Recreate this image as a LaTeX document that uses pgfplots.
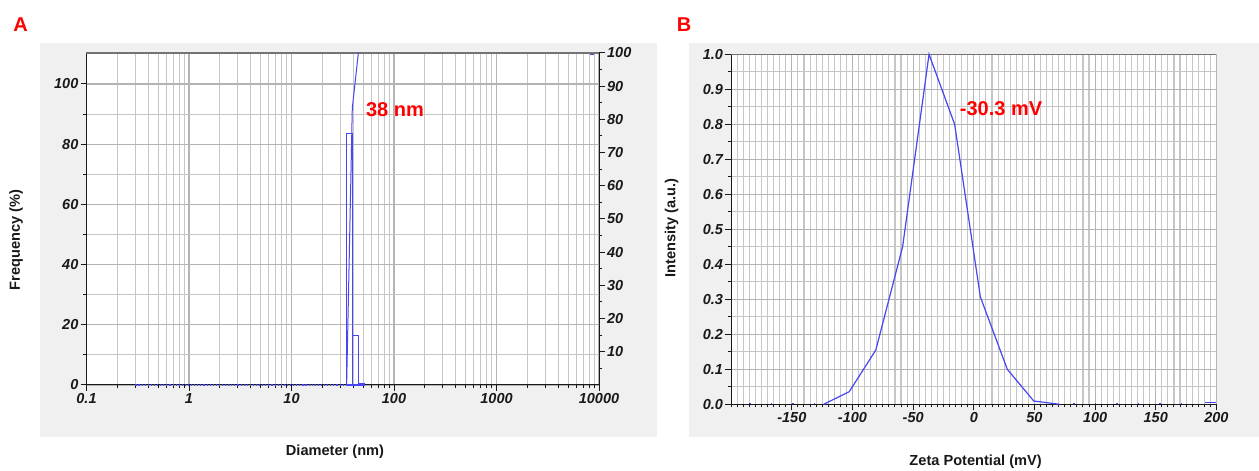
\documentclass[border=0pt]{standalone}
\usepackage{pgfplots}
\pgfplotsset{compat=1.18}
\usepackage{fontspec}
\setmainfont{Liberation Sans}

\definecolor{panelgray}{RGB}{240,240,240}
\definecolor{gridgray}{RGB}{198,198,198}
\definecolor{gridmajor}{RGB}{180,180,180}
\definecolor{trace}{RGB}{70,70,245}
\definecolor{labelred}{RGB}{255,0,0}
\definecolor{ink}{RGB}{25,25,25}

\newcommand{\tickfont}{\fontsize{14.5bp}{15bp}\selectfont\bfseries\itshape}
\newcommand{\labfont}{\fontsize{14.6bp}{16bp}\selectfont\bfseries}

\pgfplotsset{
  dlsframe/.style={
    scale only axis,
    axis background/.style={fill=white},
    tick align=outside,
    major tick length=6bp,
    minor tick length=3.5bp,
    every tick/.style={ink, line width=1bp},
    axis line style={ink, line width=1bp},
    ticklabel style={font=\tickfont, text=ink, inner sep=2bp},
    major grid style={gridmajor, line width=1.1bp},
    minor grid style={gridgray, line width=1.1bp},
    /pgf/number format/assume math mode=true,
  },
}

\begin{document}
\begin{tikzpicture}
\path[use as bounding box, fill=white] (0bp,0bp) rectangle (1259bp,471bp);
\fill[panelgray] (40bp,34bp) rectangle (657bp,428bp);
\fill[panelgray] (689bp,34bp) rectangle (1259bp,428bp);

% ---------------- A: size distribution ----------------
\begin{axis}[
  dlsframe,
  at={(86.5bp,86bp)}, anchor=south west,
  width=512.5bp, height=332bp,
  xmode=log, xmin=0.1, xmax=10000,
  ymin=0, ymax=110.3,
  axis lines*=left,
  xtick={0.1,1,10,100,1000,10000},
  xticklabels={0.1,1,10,100,1000,10000},
  minor xtick={0.2,0.3,0.4,0.5,0.6,0.7,0.8,0.9,
               2,3,4,5,6,7,8,9,20,30,40,50,60,70,80,90,
               200,300,400,500,600,700,800,900,
               2000,3000,4000,5000,6000,7000,8000,9000},
  ytick={0,20,40,60,80,100},
  minor ytick={10,30,50,70,90},
  grid=both,
  clip=false,
]
\draw[black!55, line width=1.3bp] (rel axis cs:0,1) -- (rel axis cs:1,1);
% empty bins below the peak
\addplot[trace, line width=1.1bp, dotted] coordinates {(0.3,0) (34.5,0)};
% histogram bins
\addplot[trace, line width=1.2bp] coordinates {
  (34.5,0) (34.5,83.5) (39.2,83.5) (39.2,0)
  (39.2,16.5) (44.9,16.5) (44.9,0.5) (50.9,0.5) (50.9,0) (34.5,0)};
\end{axis}

% cumulative curve on the right-hand scale
\begin{axis}[
  dlsframe,
  at={(86.5bp,86bp)}, anchor=south west,
  width=512.5bp, height=332bp,
  xmode=log, xmin=0.1, xmax=10000,
  ymin=0, ymax=100,
  axis x line=none,
  axis y line*=right,
  ytick={10,20,30,40,50,60,70,80,90,100},
  minor ytick={5,15,25,35,45,55,65,75,85,95},
  axis background/.style={},
  yticklabel style={anchor=west},
]
\addplot[trace, line width=1bp] coordinates {(34.5,0) (39.2,83.5) (44.9,100)};
\addplot[trace, line width=1.2bp] coordinates {(8200,99.6) (9000,99.6)};
\end{axis}

\node[font=\labfont, text=ink, rotate=90] at (16bp,231bp) {Frequency (\%)};
\node[font=\labfont, text=ink] at (335bp,19bp) {Diameter (nm)};
\node[font=\fontsize{20bp}{22bp}\selectfont\bfseries, text=labelred] at (395bp,361bp) {38 nm};
\node[font=\fontsize{20bp}{22bp}\selectfont\bfseries, text=labelred] at (20.5bp,446bp) {A};

% ---------------- B: zeta potential ----------------
\begin{axis}[
  dlsframe,
  at={(731.2bp,66.7bp)}, anchor=south west,
  width=485.2bp, height=350bp,
  xmin=-200, xmax=200, ymin=0, ymax=1,
  axis lines*=left,
  xtick={-150,-100,-50,0,50,100,150,200},
  xticklabels={-150,-100,-50,0,50,100,150,200},
  minor xtick={-200,-195,...,200},
  ytick={0,0.1,0.2,0.3,0.4,0.5,0.6,0.7,0.8,0.9,1},
  yticklabels={0.0,0.1,0.2,0.3,0.4,0.5,0.6,0.7,0.8,0.9,1.0},
  minor ytick={0.05,0.15,0.25,0.35,0.45,0.55,0.65,0.75,0.85,0.95},
  grid=both,
  minor tick length=3bp,
  clip=false,
]
\draw[black!55, line width=1.3bp] (rel axis cs:0,1) -- (rel axis cs:1,1);
\addplot[trace, line width=1.2bp] coordinates {
  (-123.8,0) (-102.7,0.036) (-80.8,0.155) (-58.7,0.45) (-36.9,1.0)
  (-15.8,0.80) (5.4,0.307) (27.6,0.10) (49.4,0.0095) (70.6,0)};
\addplot[trace, line width=1bp, dash pattern=on 1.5bp off 20bp] coordinates {(-185,0.002) (-124,0.002)};
\addplot[trace, line width=1bp, dash pattern=on 1.5bp off 20bp] coordinates {(82,0.002) (188,0.002)};
\addplot[trace, line width=1.2bp] coordinates {(191,0.004) (200,0.004)};
\end{axis}

\node[font=\labfont, text=ink, rotate=90] at (671.6bp,243bp) {Intensity (a.u.)};
\node[font=\labfont, text=ink] at (975.6bp,9bp) {Zeta Potential (mV)};
\node[font=\fontsize{20bp}{22bp}\selectfont\bfseries, text=labelred] at (1001bp,362bp) {-30.3 mV};
\node[font=\fontsize{20bp}{22bp}\selectfont\bfseries, text=labelred] at (684bp,446bp) {B};
\end{tikzpicture}
\end{document}
